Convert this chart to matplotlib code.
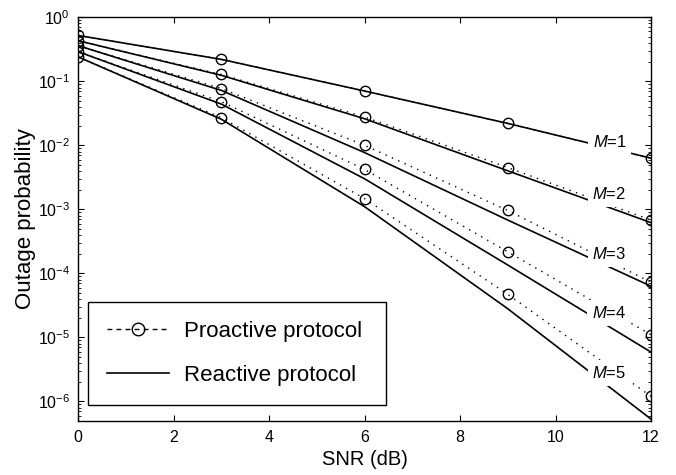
import matplotlib
matplotlib.use("Agg")
import matplotlib.pyplot as plt
from matplotlib.lines import Line2D
from matplotlib.ticker import LogLocator, FixedLocator, NullFormatter, LogFormatterSciNotation

plt.rcParams['font.family'] = ['Liberation Sans', 'DejaVu Sans']
plt.rcParams['mathtext.fontset'] = 'custom'
plt.rcParams['mathtext.rm'] = 'Liberation Sans'
plt.rcParams['mathtext.it'] = 'Liberation Sans:italic'
plt.rcParams['mathtext.default'] = 'regular'

snr = [0, 3, 6, 9, 12]
m_values = [1, 2, 3, 4, 5]
proactive = [
    [0.52, 0.22, 0.0705, 0.022, 0.0063],
    [0.43, 0.128, 0.0277, 0.0045, 6.8e-4],
    [0.36, 0.077, 0.0100, 9.6e-4, 7.3e-5],
    [0.29, 0.048, 0.0042, 2.17e-4, 1.1e-5],
    [0.24, 0.027, 0.00147, 4.7e-5, 1.2e-6],
]
reactive = [
    [0.52, 0.22, 0.0705, 0.022, 0.0063],
    [0.43, 0.124, 0.0260, 0.0040, 6.2e-4],
    [0.36, 0.072, 0.0077, 6.8e-4, 6.3e-5],
    [0.29, 0.044, 0.0030, 1.35e-4, 5.9e-6],
    [0.24, 0.0255, 0.0011, 2.8e-5, 5.3e-7],
]
label_x = 11.13
label_y = [0.0113, 1.71e-3, 2.0e-4, 2.4e-5, 2.8e-6]
xticks = [0, 2, 4, 6, 8, 10, 12]
yticks = [1e-6, 1e-5, 1e-4, 1e-3, 1e-2, 1e-1, 1e0]

fig = plt.figure(figsize=(6.76, 4.75), dpi=100)
ax = fig.add_axes([0.1158, 0.1143, 0.8472, 0.8493])

for p, r in zip(proactive, reactive):
    ax.plot(snr, p, color='black', linestyle=(0, (1, 4)), linewidth=1.0,
            marker='o', markersize=7.5, markerfacecolor='none',
            markeredgecolor='black', markeredgewidth=1.0, zorder=2)
    ax.plot(snr, r, color='black', linestyle='-', linewidth=1.2, zorder=2)

for m, ly in zip(m_values, label_y):
    ax.text(label_x, ly, '$\\mathit{M}$=%d' % m, fontsize=12, ha='center', va='center',
            bbox=dict(facecolor='white', edgecolor='none', pad=3.5), zorder=5)

ax.set_yscale('log')
ax.set_xlim(0, 12)
ax.set_ylim(5e-7, 1)
ax.xaxis.set_major_locator(FixedLocator(xticks))
ax.yaxis.set_major_locator(FixedLocator(yticks))
ax.yaxis.set_major_formatter(LogFormatterSciNotation())
ax.yaxis.set_minor_locator(LogLocator(base=10, subs=range(2, 10), numticks=20))
ax.yaxis.set_minor_formatter(NullFormatter())
ax.tick_params(which='both', direction='in', top=True, right=True, labelsize=11.5)
ax.tick_params(which='major', length=4, width=0.8)
ax.tick_params(which='minor', length=2.2, width=0.6)
ax.tick_params(axis='x', pad=7)
ax.tick_params(axis='y', pad=6)
for s in ax.spines.values():
    s.set_linewidth(1.0)

ax.set_xlabel('SNR (dB)', fontsize=14.5, labelpad=3)
ax.set_ylabel('Outage probability', fontsize=16, labelpad=1)

h1 = Line2D([], [], color='black', linestyle=(0, (3.5, 3)), linewidth=1.0, marker='o',
            markersize=9, markerfacecolor='none', markeredgecolor='black')
h2 = Line2D([], [], color='black', linestyle='-', linewidth=1.2)
leg = ax.legend([h1, h2], ['Proactive protocol', 'Reactive protocol'],
                loc='lower left', bbox_to_anchor=(0.0175, 0.039, 0.52, 0.252),
                mode='expand', fontsize=16, handlelength=2.8, handletextpad=0.65,
                borderpad=0.85, labelspacing=1.05, borderaxespad=0,
                fancybox=False, framealpha=1, edgecolor='black')
leg.get_frame().set_linewidth(1.0)

fig.savefig('out.png', dpi=100)
